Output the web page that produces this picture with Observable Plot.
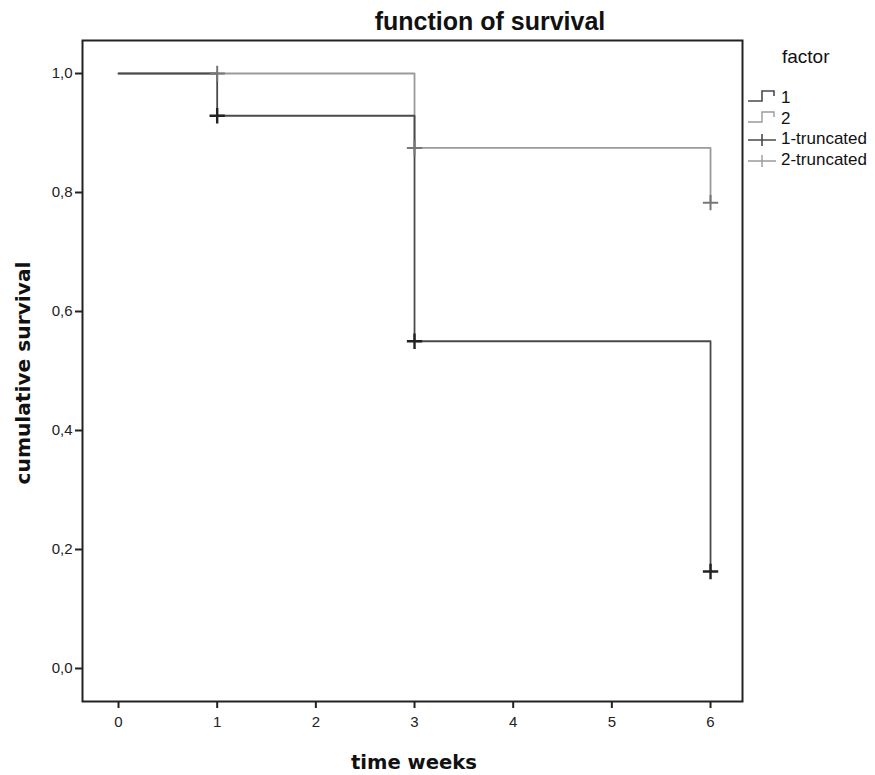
<!DOCTYPE html>
<html>
<head>
<meta charset="utf-8">
<script src="https://cdn.jsdelivr.net/npm/d3@7"></script>
<script src="https://cdn.jsdelivr.net/npm/@observablehq/plot@0.6"></script>
<style>
  html, body { margin: 0; padding: 0; background: #fff; }
  #wrap { position: relative; width: 875px; height: 775px; font-family: "Liberation Sans", Arial, sans-serif; color: #111; }
  #wrap svg { position: absolute; left: 0; top: 0; }
  #wrap svg g[aria-label$="tick label"] text, #wrap svg text { font-size: 15px; fill: #222; }
  .title { position: absolute; left: 490px; top: 21px; transform: translate(-50%, -50%); font-weight: bold; font-size: 25px; white-space: nowrap; }
  .xlab { position: absolute; left: 414px; top: 762px; transform: translate(-50%, -50%); font-family: "DejaVu Sans", sans-serif; font-weight: bold; font-size: 19.6px; white-space: nowrap; }
  .ylab { position: absolute; left: 23px; top: 373px; transform: translate(-50%, -50%) rotate(-90deg); font-family: "DejaVu Sans", sans-serif; font-weight: bold; font-size: 20.2px; white-space: nowrap; }
  .legend { position: absolute; left: 746px; top: 48px; font-size: 17px; }
  .legend .lt { position: absolute; left: 36px; top: -2px; font-size: 19px; white-space: nowrap; }
  .legend .it { position: absolute; left: 0; white-space: nowrap; height: 20px; line-height: 20px; }
  .legend .it svg { position: absolute; left: 0; top: 0; }
  .legend .it span { position: absolute; left: 35px; top: 0; }
</style>
</head>
<body>
<div id="wrap"></div>
<script>
// Survival data (Kaplan-Meier steps)
const times1 = [0, 1, 3, 6];
const surv1 = [1.0, 0.929, 0.55, 0.163];
const times2 = [0, 3, 6];
const surv2 = [1.0, 0.875, 0.783];
// Censored (truncated) observations
const cens1Times = [1, 3, 6];
const cens1Surv = [0.929, 0.55, 0.163];
const cens2Times = [1, 3, 6];
const cens2Surv = [1.0, 0.875, 0.783];
// Axis ticks
const xTicks = [0, 1, 2, 3, 4, 5, 6];
const yTicks = [0, 0.2, 0.4, 0.6, 0.8, 1.0];
const legendLabels = ["1", "2", "1-truncated", "2-truncated"];

const col1 = "#4a4a4a", col2 = "#9a9a9a", cross1 = "#222", cross2 = "#777";

const s1 = times1.map((t, i) => ({t, s: surv1[i]}));
const s2 = times2.map((t, i) => ({t, s: surv2[i]}));
const c1 = cens1Times.map((t, i) => ({t, s: cens1Surv[i]}));
const c2 = cens2Times.map((t, i) => ({t, s: cens2Surv[i]}));

const fmt = d => d3.format(".1f")(d).replace(".", ",");

const chart = Plot.plot({
  width: 875,
  height: 775,
  marginTop: 40,
  marginRight: 133,
  marginBottom: 74,
  marginLeft: 82,
  style: {fontFamily: "Liberation Sans, Arial, sans-serif", fontSize: "15px", color: "#222", background: "transparent"},
  x: {domain: [-0.365, 6.324]},
  y: {domain: [-0.0555, 1.0555]},
  marks: [
    Plot.axisX({ticks: xTicks, tickSize: 7, strokeWidth: 2, tickPadding: 8, fontSize: 15, label: null, tickFormat: d => String(d)}),
    Plot.axisY({ticks: yTicks, tickSize: 7, strokeWidth: 2, tickPadding: 3, fontSize: 15, label: null, tickFormat: fmt}),
    Plot.line(s2, {x: "t", y: "s", curve: "step-after", stroke: col2, strokeWidth: 1.8}),
    Plot.line(s1, {x: "t", y: "s", curve: "step-after", stroke: col1, strokeWidth: 1.8}),
    Plot.dot(c2, {x: "t", y: "s", symbol: "plus", r: 5, stroke: cross2, strokeWidth: 2}),
    Plot.dot(c1, {x: "t", y: "s", symbol: "plus", r: 5, stroke: cross1, strokeWidth: 2.4}),
    Plot.frame({stroke: "#222", strokeWidth: 2})
  ]
});

const wrap = document.getElementById("wrap");
wrap.appendChild(chart);

function addDiv(cls, text) {
  const d = document.createElement("div");
  d.className = cls; d.textContent = text; wrap.appendChild(d); return d;
}
addDiv("title", "function of survival");
addDiv("xlab", "time weeks");
addDiv("ylab", "cumulative survival");

const leg = document.createElement("div");
leg.className = "legend";
wrap.appendChild(leg);
const lt = document.createElement("div"); lt.className = "lt"; lt.textContent = "factor"; leg.appendChild(lt);
const glyphs = [
  `<svg width="34" height="20"><path d="M2,13H16V3H28V8" fill="none" stroke="${col1}" stroke-width="1.6"/></svg>`,
  `<svg width="34" height="20"><path d="M2,13H16V3H28V8" fill="none" stroke="${col2}" stroke-width="1.4"/></svg>`,
  `<svg width="34" height="20"><path d="M2,11H30M16,5V17" fill="none" stroke="${col1}" stroke-width="1.6"/></svg>`,
  `<svg width="34" height="20"><path d="M2,11H30M16,5V17" fill="none" stroke="${col2}" stroke-width="1.4"/></svg>`
];
legendLabels.forEach((lab, i) => {
  const it = document.createElement("div");
  it.className = "it";
  it.style.top = (40 + i * 20.5) + "px";
  it.innerHTML = glyphs[i] + `<span>${lab}</span>`;
  leg.appendChild(it);
});
</script>
</body>
</html>
